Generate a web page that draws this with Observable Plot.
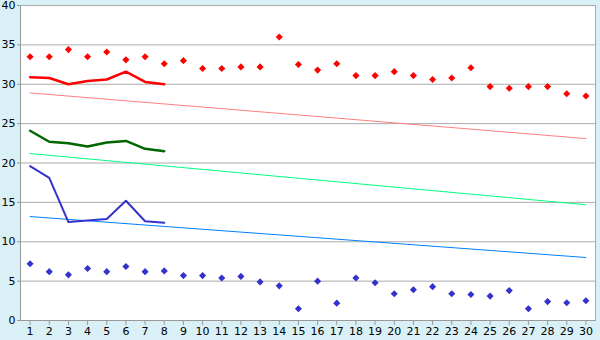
<!DOCTYPE html>
<html>
<head>
<meta charset="utf-8">
<script src="https://cdn.jsdelivr.net/npm/d3@7"></script>
<script src="https://cdn.jsdelivr.net/npm/@observablehq/plot@0.6"></script>
<style>
  html, body { margin: 0; padding: 0; background: #d9f0f7; }
</style>
</head>
<body>
<div id="chart"></div>
<script>
const days = d3.range(1, 31);
const yTicks = [0, 5, 10, 15, 20, 25, 30, 35, 40];

const highPoints = [33.5, 33.5, 34.4, 33.5, 34.1, 33.1, 33.5, 32.6, 33.0, 32.0,
                    32.0, 32.2, 32.2, 36.0, 32.5, 31.8, 32.6, 31.1, 31.1, 31.6,
                    31.1, 30.6, 30.8, 32.1, 29.7, 29.5, 29.7, 29.7, 28.8, 28.5];
const lowPoints = [7.2, 6.2, 5.8, 6.6, 6.2, 6.85, 6.2, 6.3, 5.7, 5.7,
                   5.4, 5.6, 4.9, 4.4, 1.5, 5.0, 2.2, 5.4, 4.8, 3.4,
                   3.9, 4.3, 3.4, 3.3, 3.1, 3.8, 1.5, 2.4, 2.25, 2.5];

const lineDays = [1, 2, 3, 4, 5, 6, 7, 8];
const redLine = [30.9, 30.8, 30.0, 30.4, 30.6, 31.6, 30.3, 30.0];
const greenLine = [24.1, 22.7, 22.5, 22.1, 22.6, 22.8, 21.8, 21.5];
const blueLine = [19.6, 18.1, 12.5, 12.7, 12.9, 15.2, 12.6, 12.4];

const trendDays = [1, 30];
const redTrend = [28.9, 23.1];
const greenTrend = [21.2, 14.7];
const blueTrend = [13.2, 8.0];

const pts = (xs, ys) => xs.map((x, i) => ({x, y: ys[i]}));

const chart = Plot.plot({
  width: 600,
  height: 340,
  marginLeft: 20,
  marginRight: 5,
  marginTop: 5,
  marginBottom: 20,
  style: {background: "#d9f0f7", fontFamily: "DejaVu Sans", fontSize: "11px", color: "#000"},
  x: {domain: [0.5, 30.5], axis: null, label: null},
  y: {domain: [0, 40], axis: null, label: null},
  marks: [
    Plot.frame({fill: "white", stroke: "#aaa"}),
    Plot.ruleY(yTicks, {stroke: "#aaa", strokeWidth: 1}),
    Plot.line(pts(trendDays, redTrend), {x: "x", y: "y", stroke: "#ff8080", strokeWidth: 1}),
    Plot.line(pts(trendDays, greenTrend), {x: "x", y: "y", stroke: "#00ff80", strokeWidth: 1}),
    Plot.line(pts(trendDays, blueTrend), {x: "x", y: "y", stroke: "#0080ff", strokeWidth: 1}),
    Plot.line(pts(lineDays, redLine), {x: "x", y: "y", stroke: "#ff0000", strokeWidth: 2.5}),
    Plot.line(pts(lineDays, greenLine), {x: "x", y: "y", stroke: "#006600", strokeWidth: 2.5}),
    Plot.line(pts(lineDays, blueLine), {x: "x", y: "y", stroke: "#3333cc", strokeWidth: 2}),
    Plot.dot(pts(days, highPoints), {x: "x", y: "y", symbol: "diamond2", r: 3.2, fill: "#ff0000", stroke: "none"}),
    Plot.dot(pts(days, lowPoints), {x: "x", y: "y", symbol: "diamond2", r: 3.2, fill: "#3333cc", stroke: "none"}),
    Plot.axisY({ticks: yTicks, tickSize: 3, tickPadding: 2, stroke: "#999", tickFormat: d => d, label: null}),
    Plot.axisX({ticks: days, tickSize: 5, tickPadding: 2, stroke: "#999", tickFormat: d => d, label: null}),
    Plot.ruleX([0.5], {stroke: "#999"}),
    Plot.ruleY([0], {stroke: "#999"})
  ]
});
document.getElementById("chart").appendChild(chart);
</script>
</body>
</html>
